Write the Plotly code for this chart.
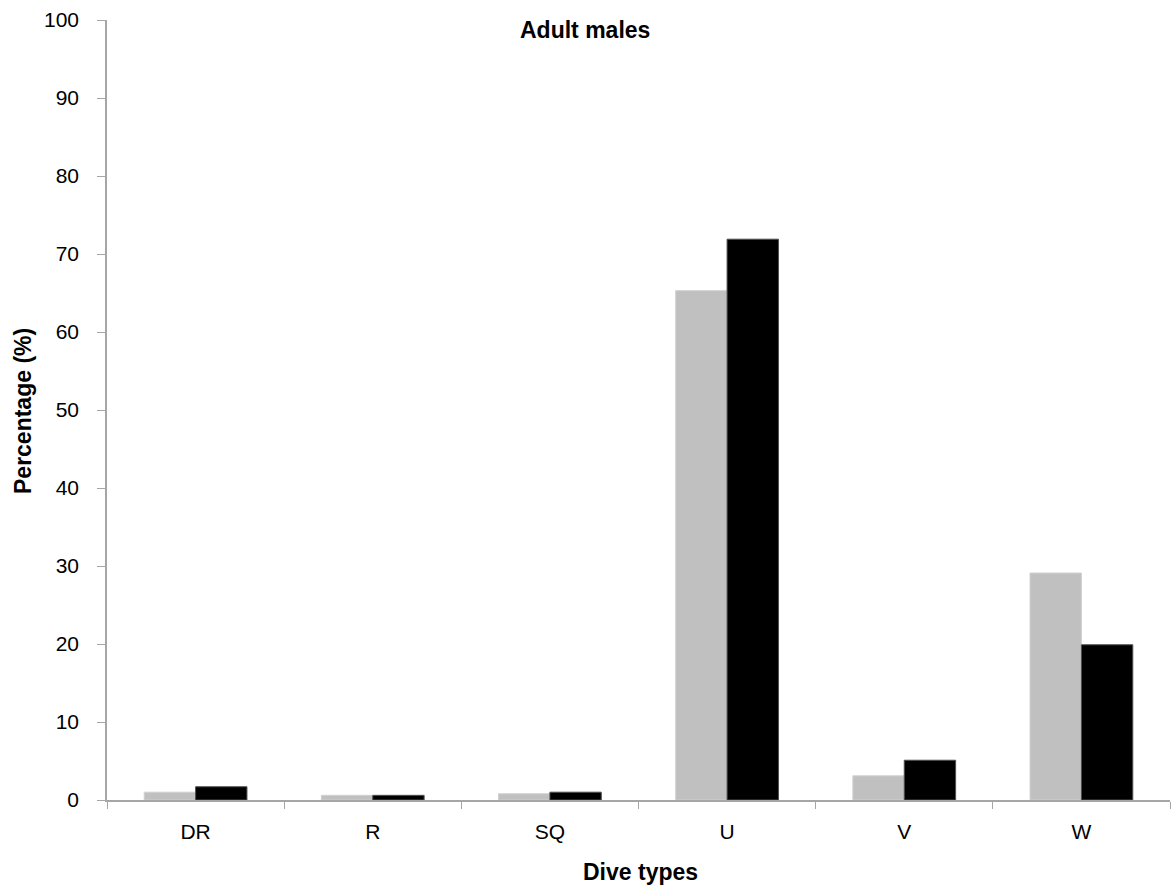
import plotly.graph_objects as go

categories = ["DR", "R", "SQ", "U", "V", "W"]
series_gray = [1.0, 0.6, 0.8, 65.3, 3.1, 29.1]
series_black = [1.7, 0.6, 1.0, 71.9, 5.1, 19.9]
y_ticks = list(range(0, 101, 10))

fig = go.Figure()
fig.add_trace(go.Bar(x=categories, y=series_gray, marker=dict(color="#c0c0c0", line=dict(color="#d0d0d0", width=1)), showlegend=False))
fig.add_trace(go.Bar(x=categories, y=series_black, marker=dict(color="#000000", line=dict(color="#505050", width=1)), showlegend=False))

font_family = "Liberation Sans, Arial, sans-serif"
FS = 23
TFS = 21
L, R, T, B = 107, 1, 20, 88
PW, PH = 1171 - L - R, 888 - T - B


def px_to_paper(x, y):
    return (x - L) / PW, (888 - B - y) / PH


tx, ty = px_to_paper(585, 30)
xx, xy = px_to_paper(640, 872)
yx, yy = px_to_paper(23, 411)

fig.update_layout(
    width=1171, height=888,
    margin=dict(l=L, r=R, t=T, b=B),
    paper_bgcolor="white", plot_bgcolor="white",
    barmode="group", bargap=0.42, bargroupgap=0,
    font=dict(family=font_family, size=TFS, color="black"),
    xaxis=dict(
        showline=True, linecolor="#a6a6a6", linewidth=1.5,
        ticks="outside", tickson="boundaries", ticklen=7, tickcolor="#a6a6a6",
        showgrid=False, tickfont=dict(size=TFS),
        ticklabelstandoff=12,
    ),
    yaxis=dict(
        range=[0, 100], tickvals=y_ticks,
        showline=True, linecolor="#a6a6a6", linewidth=1.5,
        ticks="outside", ticklen=8, tickcolor="#a6a6a6",
        showgrid=False, zeroline=False, tickfont=dict(size=TFS),
        ticklabelstandoff=14,
    ),
    annotations=[
        dict(text="<b>Adult males</b>", x=tx, y=ty, xref="paper", yref="paper",
             xanchor="center", yanchor="middle", showarrow=False, font=dict(size=FS)),
        dict(text="<b>Dive types</b>", x=xx, y=xy, xref="paper", yref="paper",
             xanchor="center", yanchor="middle", showarrow=False, font=dict(size=FS)),
        dict(text="<b>Percentage (%)</b>", x=yx, y=yy, xref="paper", yref="paper",
             xanchor="center", yanchor="middle", textangle=-90, showarrow=False, font=dict(size=FS)),
    ],
)
fig.write_html("out.html")
